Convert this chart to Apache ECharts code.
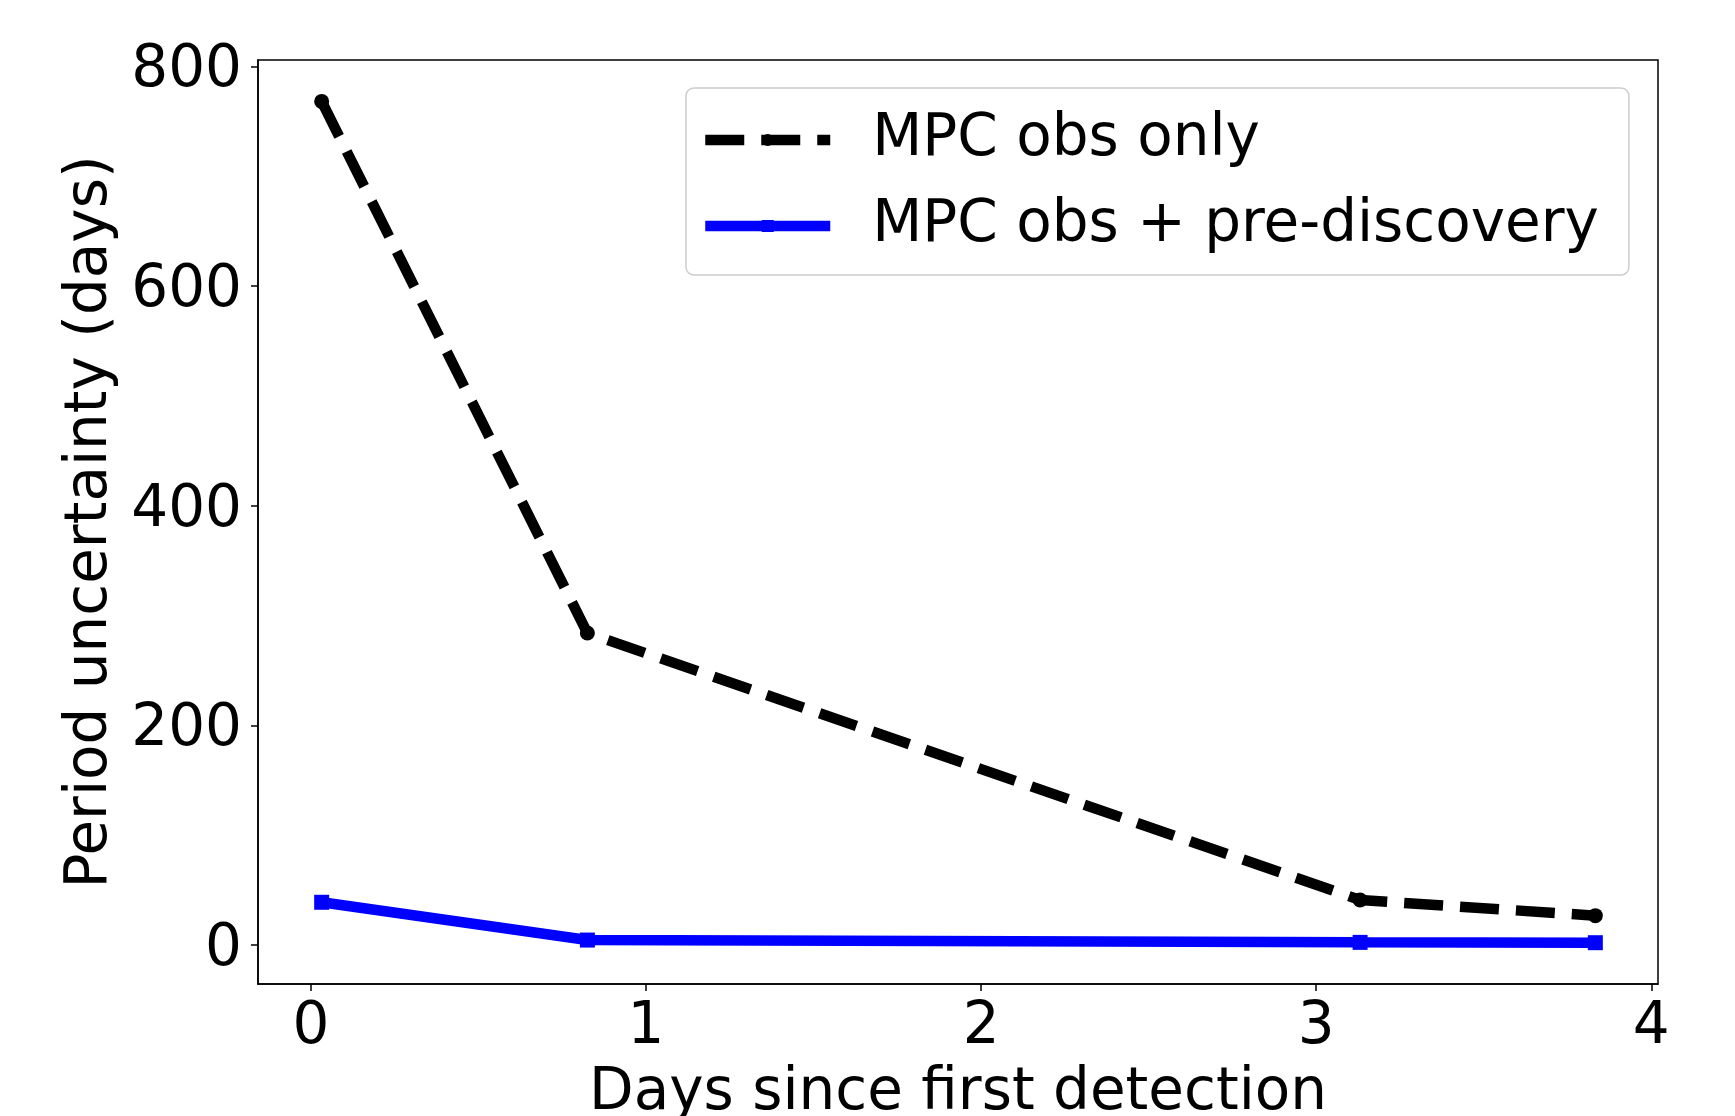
<!DOCTYPE html>
<html>
<head>
<meta charset="utf-8">
<script src="https://cdn.jsdelivr.net/npm/echarts@6/dist/echarts.min.js"></script>
<style>html,body{margin:0;padding:0;background:#fff}#c{width:1735px;height:1116px}</style>
</head>
<body>
<div id="c"></div>
<script>
const mpcX = [0.032, 0.825, 3.131, 3.833];
const mpcY = [768, 284, 41, 26.7];
const preX = [0.032, 0.825, 3.131, 3.833];
const preY = [38.9, 4.5, 2.4, 2.1];
const xTicks = [0, 1, 2, 3, 4];
const yTicks = [0, 200, 400, 600, 800];
const seriesNames = ['MPC obs only', 'MPC obs + pre-discovery'];
const xName = 'Days since first detection';
const yName = 'Period uncertainty (days)';

const FONT = 'DejaVu Sans';
const FS = 58;
const chart = echarts.init(document.getElementById('c'), null, {renderer: 'canvas'});
const zip = (a, b) => a.map((v, i) => [v, b[i]]);
chart.setOption({
  animation: false,
  backgroundColor: '#fff',
  textStyle: {fontFamily: FONT},
  grid: {left: 258, right: 77, top: 60, bottom: 132, show: true, borderColor: '#000', borderWidth: 1.5, backgroundColor: 'transparent', containLabel: false, outerBoundsMode: 'none'},
  legend: {
    orient: 'vertical', left: 686, top: 88,
    padding: [22, 30, 19, 14],
    itemGap: 26, itemWidth: 125, itemHeight: 15,
    backgroundColor: 'rgba(255,255,255,0.8)', borderColor: '#cccccc', borderWidth: 1.5, borderRadius: 8,
    lineStyle: {width: 10.5},
    textStyle: {fontFamily: FONT, fontSize: FS, color: '#000', lineHeight: 60, padding: [0, 0, 0, 37]},
    data: seriesNames
  },
  xAxis: {
    type: 'value', min: -0.158, max: 4.02,
    name: xName, nameLocation: 'middle', nameGap: 81,
    nameTextStyle: {fontFamily: FONT, fontSize: FS, color: '#000'},
    axisLine: {show: true, onZero: false, lineStyle: {color: '#000', width: 1.5}},
    axisTick: {show: true, inside: false, length: 7, lineStyle: {color: '#000', width: 1.5}, customValues: xTicks},
    axisLabel: {fontFamily: FONT, fontSize: FS, color: '#000', margin: 15, customValues: xTicks},
    splitLine: {show: false}
  },
  yAxis: {
    type: 'value', min: -35.5, max: 805.7,
    name: yName, nameLocation: 'middle', nameGap: 127, nameRotate: 90,
    nameTextStyle: {fontFamily: FONT, fontSize: FS, color: '#000'},
    axisLine: {show: true, onZero: false, lineStyle: {color: '#000', width: 1.5}},
    axisTick: {show: true, inside: false, length: 7, lineStyle: {color: '#000', width: 1.5}, customValues: yTicks},
    axisLabel: {
      fontFamily: FONT, fontSize: FS, color: '#000', margin: 16, customValues: yTicks,
      formatter: v => '{t|' + v + '}',
      rich: {t: {fontFamily: FONT, fontSize: FS, color: '#000', padding: [10, 0, 0, 0]}}
    },
    splitLine: {show: false}
  },
  series: [
    {
      name: seriesNames[0], type: 'line', data: zip(mpcX, mpcY),
      symbol: 'circle', symbolSize: 15, showSymbol: true,
      itemStyle: {color: '#000'},
      lineStyle: {color: '#000', width: 10.5, type: [39, 17], cap: 'butt'},
      z: 3
    },
    {
      name: seriesNames[1], type: 'line', data: zip(preX, preY),
      symbol: 'rect', symbolSize: 15, showSymbol: true,
      itemStyle: {color: '#0000ff'},
      lineStyle: {color: '#0000ff', width: 10.5, type: 'solid'},
      z: 2
    }
  ]
});
</script>
</body>
</html>
